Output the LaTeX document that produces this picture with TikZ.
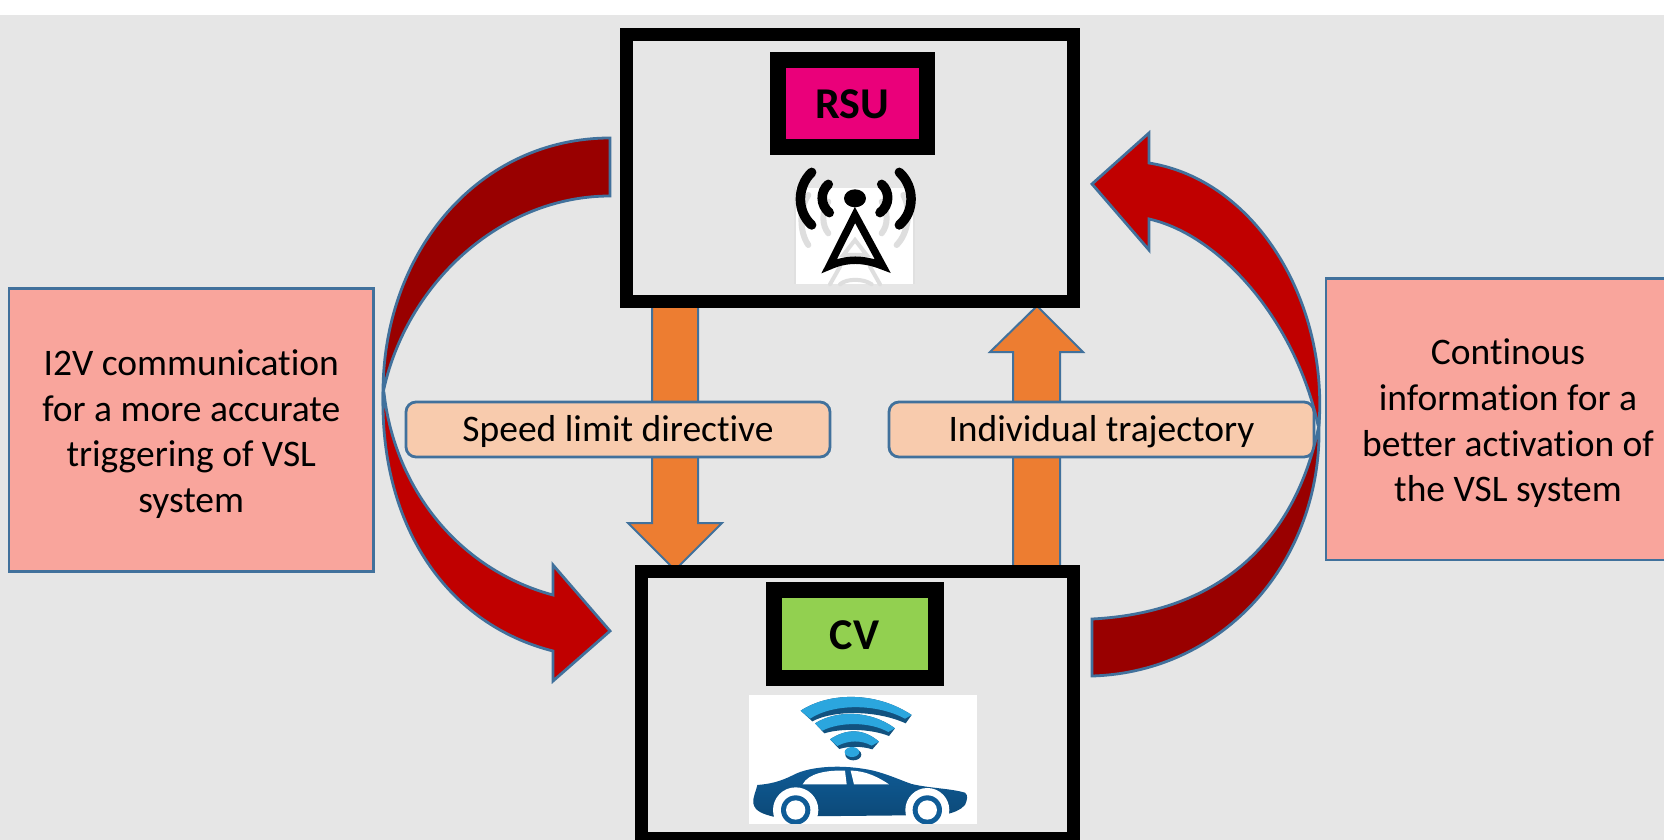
\documentclass[tikz,border=0pt]{standalone}
\usepackage{fontspec}
\setmainfont[RawFeature={-liga;-clig}]{Carlito}
\usetikzlibrary{calc}
\definecolor{bgg}{HTML}{E6E6E6}
\definecolor{edgeb}{HTML}{41719C}
\definecolor{pinkbox}{HTML}{F9A59C}
\definecolor{peach}{HTML}{F8CBAD}
\definecolor{orangea}{HTML}{ED7D31}
\definecolor{darkred}{HTML}{990000}
\definecolor{brightred}{HTML}{C00000}
\definecolor{rsupink}{HTML}{EA007A}
\definecolor{cvgreen}{HTML}{92D050}
\definecolor{carblue}{HTML}{0F5C97}
\definecolor{wifilight}{HTML}{2BA6DE}
\definecolor{wifidark}{HTML}{12527F}
\tikzset{
  bigbox/.style={draw=black,line width=13pt,fill=bgg,miter limit=10},
  tagbox/.style={draw=black,line width=16pt,minimum width=149pt,minimum height=87pt,font=\fontsize{44}{48}\selectfont\bfseries,inner sep=0pt,text height=31pt,text depth=0pt},
  infobox/.style={draw=edgeb,line width=2.8pt,fill=pinkbox,inner sep=0pt},
  infotext/.style={align=center,inner sep=0pt,font=\fontsize{37.5}{45.6}\selectfont},
  labelbox/.style={draw=edgeb,line width=2.8pt,fill=peach,rounded corners=10pt,inner sep=0pt,minimum height=55pt,font=\fontsize{37.5}{42}\selectfont,text height=29.5pt,text depth=6pt},
  blockarrow/.style={draw=edgeb,line width=2pt,fill=orangea,line join=miter},
  curvedark/.style={draw=edgeb,line width=2.8pt,fill=darkred,line join=miter},
  curvebright/.style={draw=edgeb,line width=2.8pt,fill=brightred,line join=miter},
}
\begin{document}
\begin{tikzpicture}[x=1pt,y=-1pt]
\useasboundingbox (0,0) rectangle (1664,840);
\fill[white] (0,0) rectangle (1664,840);
\fill[bgg] (0,15) rectangle (1664,840);
% orange arrows
\draw[blockarrow] (652,300) -- (698,300) -- (698,523) -- (722,523) -- (675,570) -- (628,523) -- (652,523) -- cycle;
\draw[blockarrow] (1037,306) -- (1083,352) -- (1060,352) -- (1060,575) -- (1013,575) -- (1013,352) -- (990,352) -- cycle;
% big boxes
\draw[bigbox] (626.5,34.5) rectangle (1073.5,301.5);
\draw[bigbox] (641,571.5) rectangle (1073.5,838.5);
% tags
\node[tagbox,fill=rsupink] (rsu) at (852,103.5) {RSU};
\node[tagbox,fill=cvgreen,minimum width=162pt,minimum height=88pt] (cv) at (854.5,633.5) {CV};
% antenna
\begin{scope}[shift={(740,140)},x=0.3333pt,y=-0.3333pt]
\fill[white] (165,145) rectangle (522,433);
\draw[black!12,line width=1.5pt] (165,145) -- (165,433) (522,145) -- (522,433);
\begin{scope}[draw=black!13,line width=6pt,line cap=round]
\draw (205,315) .. controls (180,280) and (175,210) .. (205,165);
\draw (265,280) .. controls (245,255) and (245,215) .. (265,185);
\draw (470,315) .. controls (505,280) and (515,210) .. (490,165);
\draw (425,280) .. controls (445,255) and (445,215) .. (425,185);
\draw[line width=4pt] (345,300) -- (310,345) -- (380,345) -- cycle;
\draw[line width=4pt] (270,433) -- (300,380) (420,433) -- (390,380);
\draw[line width=4pt] (300,433) .. controls (320,415) and (370,415) .. (395,433);
\end{scope}
\begin{scope}[draw=black,line width=9.5pt,line cap=round]
\draw (215,97) .. controls (170,140) and (170,215) .. (215,255);
\draw (265,133) .. controls (240,155) and (240,195) .. (268,218);
\draw (478,97) .. controls (525,140) and (525,215) .. (478,255);
\draw (425,133) .. controls (450,155) and (450,195) .. (420,218);
\end{scope}
\fill[black] (345,175) ellipse (33 and 27);
\draw[black,line width=7.5pt,line join=miter] (345,225) -- (268,378) .. controls (320,355) and (370,355) .. (428,378) -- cycle;
\end{scope}
% car
\begin{scope}[shift={(730,680)},x=0.3333pt,y=-0.3333pt]
\fill[white] (57,45) rectangle (742,432);
\begin{scope}
\clip (57,45) rectangle (742,432);
\fill[wifidark] (212,92) .. controls (300,35) and (440,35) .. (545,105) -- (527,130) .. controls (440,90) and (310,90) .. (247,124) -- cycle;
\fill[wifilight] (212,92) .. controls (300,35) and (440,35) .. (545,105) -- (525,116) .. controls (440,70) and (310,70) .. (240,116) -- cycle;
\fill[wifidark] (255,130) .. controls (320,90) and (420,90) .. (495,145) -- (477,168) .. controls (420,145) and (330,145) .. (283,160) -- cycle;
\fill[wifilight] (255,130) .. controls (320,90) and (420,90) .. (495,145) -- (475,156) .. controls (420,125) and (330,125) .. (277,152) -- cycle;
\fill[wifidark] (300,178) .. controls (350,145) and (400,145) .. (447,185) -- (427,208) .. controls (395,198) and (355,198) .. (328,207) -- cycle;
\fill[wifilight] (300,178) .. controls (350,145) and (400,145) .. (447,185) -- (425,197) .. controls (395,180) and (355,180) .. (322,198) -- cycle;
\fill[wifidark] (370,224) ellipse (24 and 17);
\fill[wifilight] (366,216) ellipse (22 and 15);
\path[top color=carblue,bottom color=carblue!80!black]
  (82,315) .. controls (120,312) and (150,305) .. (190,285)
  .. controls (240,258) and (340,252) .. (430,272)
  .. controls (480,285) and (510,300) .. (545,312)
  .. controls (600,325) and (660,325) .. (705,338)
  .. controls (715,345) and (712,360) .. (705,375)
  .. controls (690,392) and (670,398) .. (640,405)
  -- (130,410)
  .. controls (100,402) and (75,395) .. (70,370)
  .. controls (68,350) and (78,335) .. (82,315) -- cycle;
\fill[white] (218,313) .. controls (235,280) and (290,270) .. (345,272) -- (350,313) -- cycle;
\fill[white] (362,272) .. controls (410,272) and (450,295) .. (477,313) -- (372,313) -- cycle;
\fill[white] (197,390) circle (68);
\fill[white] (592,390) circle (66);
\fill[carblue] (197,390) circle (44);
\fill[carblue] (592,390) circle (44);
\fill[white] (197,390) circle (29);
\fill[white] (592,390) circle (29);
\end{scope}
\end{scope}
% info boxes
\node[infobox,minimum width=364.5pt,minimum height=282.5pt] (left) at (191.25,430) {};
\node[infotext] (lefttext) at ([yshift=-4.2pt]left.center) {I2V communication\\for a more accurate\\triggering of VSL\\system};
\node[infobox,minimum width=364pt,minimum height=281.5pt] (right) at (1508,419.25) {};
\node[infotext] (righttext) at ([yshift=-4.2pt]right.center) {Continous\\information for a\\better activation of\\the VSL system};
% labels
\node[labelbox,minimum width=424pt] (speed) at (618,429.5) {Speed limit directive};
\node[labelbox,minimum width=425pt] (traj) at (1101.5,429.5) {Individual trajectory};
% left curved arrow
\draw[curvedark] (610,138) .. controls (480,138) and (383,250) .. (383,393)
  .. controls (405,285) and (500,196) .. (610,196) -- cycle;
\draw[curvebright] (384,393) .. controls (395,490) and (460,570) .. (553,595)
  -- (553,565) -- (610,631) -- (553,681) -- (553,651)
  .. controls (450,625) and (380,530) .. (383,393) -- cycle;
% right curved arrow
\draw[curvedark] (1092,676) .. controls (1225,672) and (1322,560) .. (1319,425)
  .. controls (1298,530) and (1230,612) .. (1092,619) -- cycle;
\draw[curvebright] (1318,425) .. controls (1295,320) and (1220,235) .. (1149,219)
  -- (1149,250) -- (1092,184) -- (1149,133) -- (1149,163)
  .. controls (1255,180) and (1328,300) .. (1319,425) -- cycle;
\end{tikzpicture}
\end{document}
